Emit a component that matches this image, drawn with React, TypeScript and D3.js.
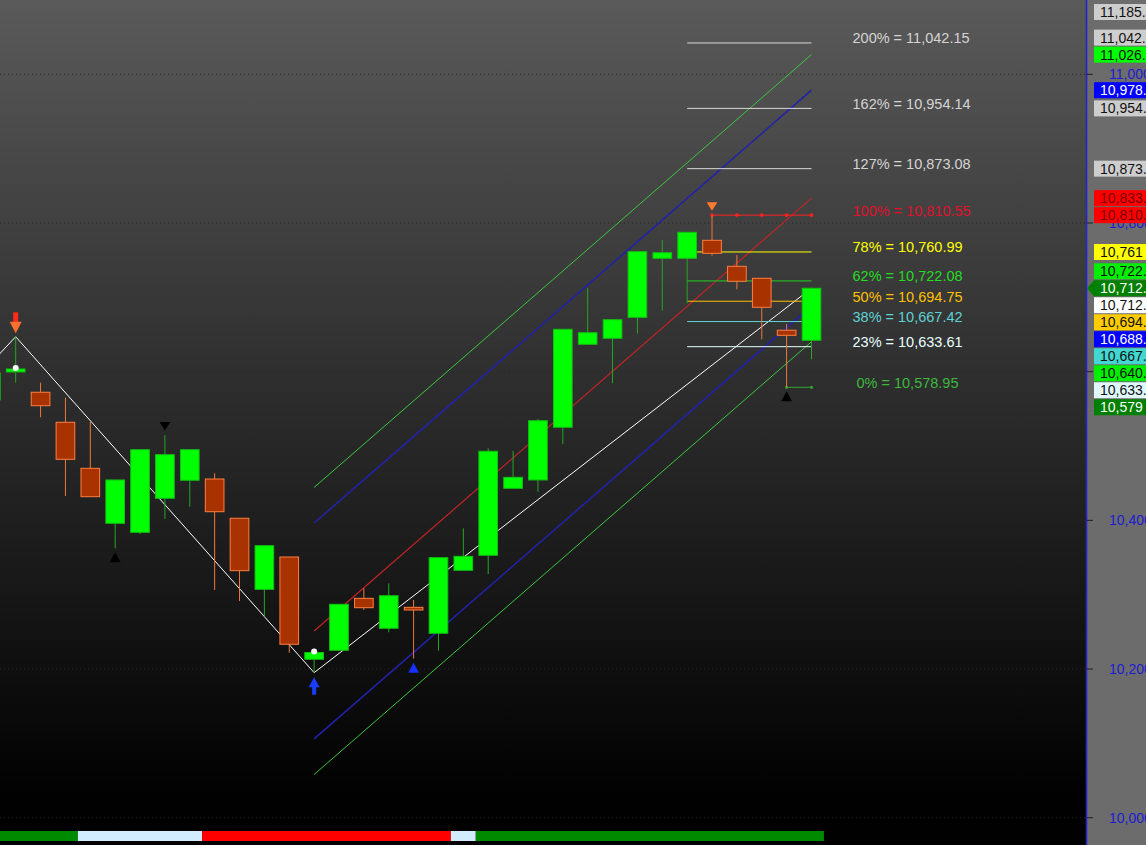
import React from "react";
import * as d3 from "d3";

const WIDTH = 1146;
const HEIGHT = 845;
const FONT = "'Liberation Sans', Arial, sans-serif";

// ---- candles (index -1 .. 32) ----
const candleIdx = [-1, 0, 1, 2, 3, 4, 5, 6, 7, 8, 9, 10, 11, 12, 13, 14, 15, 16, 17, 18, 19, 20, 21, 22, 23, 24, 25, 26, 27, 28, 29, 30, 31, 32];
const opens = [10561.9, 10599.6, 10572.3, 10531.9, 10470.0, 10396.0, 10383.9, 10429.7, 10453.9, 10455.6, 10402.8, 10307.2, 10350.7, 10213.1, 10225.2, 10295.1, 10254.8, 10283.0, 10248.1, 10332.8, 10353.0, 10443.1, 10454.3, 10525.2, 10636.8, 10644.9, 10673.1, 10752.5, 10752.5, 10776.7, 10741.7, 10725.6, 10655.7, 10642.2];
const highs = [10600.0, 10647.0, 10585.2, 10565.0, 10532.3, 10454.3, 10495.0, 10514.8, 10495.0, 10463.3, 10402.8, 10365.9, 10350.7, 10222.2, 10287.1, 10308.6, 10315.3, 10292.9, 10349.8, 10389.3, 10496.9, 10493.3, 10536.3, 10657.0, 10712.2, 10669.9, 10761.4, 10777.1, 10787.5, 10810.55, 10756.9, 10725.6, 10664.1, 10712.2];
const lows = [10555.0, 10585.2, 10538.6, 10432.8, 10431.8, 10362.4, 10381.6, 10401.8, 10418.4, 10306.3, 10291.5, 10270.4, 10222.0, 10195.1, 10225.2, 10279.4, 10249.4, 10213.9, 10224.6, 10332.8, 10327.8, 10443.1, 10438.5, 10502.7, 10636.8, 10584.4, 10651.6, 10682.0, 10692.0, 10756.0, 10710.8, 10643.5, 10578.95, 10616.6];
const closes = [10598.2, 10603.6, 10554.2, 10482.1, 10431.8, 10454.3, 10495.0, 10488.3, 10495.0, 10411.6, 10332.3, 10365.9, 10233.3, 10222.2, 10287.1, 10282.5, 10298.6, 10279.4, 10349.8, 10351.6, 10492.9, 10457.9, 10534.0, 10657.0, 10652.4, 10669.9, 10761.4, 10760.0, 10787.5, 10759.2, 10721.6, 10686.6, 10648.9, 10712.2];

// trend strip state per candle
const trendState = ["up", "up", "up", "up", "flat", "flat", "flat", "flat", "flat", "down", "down", "down", "down", "down", "down", "down", "down", "down", "down", "flat", "up", "up", "up", "up", "up", "up", "up", "up", "up", "up", "up", "up", "up", "up"];
const trendColors: Record<string, string> = { up: "#008a00", flat: "#d2ecff", down: "#ff0000" };

// zigzag
const zigIdx = [-3, 0, 12, 32];
const zigValues = [10540.0, 10647.0, 10195.1, 10712.2];

// regression channel
const regIdx = [12, 32];
const regValues = [10251.2, 10833.4];
const channelOffsets = [193.1, -193.1, 145.2, -145.2, 0];
const channelColors = ["#3cc83c", "#3cc83c", "#2222a8", "#2222a8", "#c42424"];
const channelWidths = [1, 1, 1.6, 1.6, 1.2];

// fibonacci
const fibPct = ["200%", "162%", "127%", "100%", "78%", "62%", "50%", "38%", "23%", "0%"];
const fibValues = [11042.15, 10954.14, 10873.08, 10810.55, 10760.99, 10722.08, 10694.75, 10667.42, 10633.61, 10578.95];
const fibStart = [27, 27, 27, 28, 27, 27, 27, 27, 27, 31];
const fibEnd = 32;
const fibLineColors = ["#d8d8d8", "#d8d8d8", "#d8d8d8", "#ff2020", "#ffff00", "#22d022", "#ffc000", "#60d4d4", "#e8ffff", "#30a030"];
const fibTextColors = ["#d4d4d4", "#d4d4d4", "#d4d4d4", "#e0102c", "#ffff00", "#22dd22", "#ffc000", "#5fd3d3", "#e8ffff", "#3cb83c"];

// signal markers
const markerIdx = [0, 12, 4, 6, 16, 28, 31];
const markerKind = ["arrowDown", "arrowUp", "triUp", "triDown", "triUp", "triDown", "triUp"];
const markerColor = ["#ff7030", "#1a3cff", "#000000", "#000000", "#1530ff", "#ff7a30", "#000000"];
const dotIdx = [0, 12];

// axis
const axisTicks = [10000, 10200, 10400, 10600, 10800, 11000];
const labelValues = [11185.4, 11042.15, 11026.5, 10978.6, 10954.14, 10873.08, 10833.4, 10810.55, 10760.99, 10722.08, 10712.2, 10712.2, 10694.75, 10688.2, 10667.42, 10640.3, 10633.61, 10578.95];
const labelDecimals = [2, 2, 2, 2, 2, 2, 2, 2, 0, 2, 2, 2, 2, 2, 2, 2, 2, 0];
const labelBg = ["#cdcdcd", "#cdcdcd", "#00ff00", "#0000ff", "#cdcdcd", "#cdcdcd", "#ff0000", "#ff0000", "#ffff00", "#00ee00", "#008000", "#ffffff", "#ffcc00", "#0000ff", "#40d8d0", "#00ee00", "#e0f8ff", "#008000"];
const labelFg = ["#111", "#111", "#111", "#fff", "#111", "#111", "#7a0000", "#7a0000", "#111", "#111", "#fff", "#111", "#111", "#fff", "#111", "#111", "#111", "#fff"];
const currentLabel = 10;

export default function App() {
  const x = d3.scaleLinear().domain([0, 32]).range([15.7, 811.5]);
  const y = d3.scaleLinear().domain([10000, 11000]).range([817.7, 74.3]);
  const step = x(1) - x(0);
  const bw = step * 0.75;
  const axisX = 1086;

  const line = d3.line<[number, number]>().x((d) => x(d[0])).y((d) => y(d[1]));

  // axis label placement
  const trueY = labelValues.map((v) => y(v));
  const placed = trueY.slice();
  const gap = 17;
  for (let k = currentLabel - 1; k >= 0; k--) placed[k] = Math.min(trueY[k], placed[k + 1] - gap);
  for (let k = currentLabel + 1; k < placed.length; k++) placed[k] = Math.max(trueY[k], placed[k - 1] + gap);
  const finalY = placed.map((v) => Math.max(v, 12));

  // merge trend strip into runs
  const runs: { s: number; e: number; state: string }[] = [];
  candleIdx.forEach((i, k) => {
    const st = trendState[k];
    const last = runs[runs.length - 1];
    if (last && last.state === st) last.e = i;
    else runs.push({ s: i, e: i, state: st });
  });

  const bull = "#00ff00";
  const bullEdge = "#12c012";
  const bullWick = "#22a822";
  const bear = "#a83200";
  const bearEdge = "#ff7f40";
  const bearWick = "#f07838";

  return (
    <div style={{ position: "fixed", left: 0, top: 0, width: WIDTH, height: HEIGHT, overflow: "hidden" }}>
      <svg width={WIDTH} height={HEIGHT} style={{ display: "block" }} fontFamily={FONT}>
        <defs>
          <linearGradient id="bg" x1="0" y1="0" x2="0" y2="1">
            <stop offset="0" stopColor="#5a5a5a" />
            <stop offset="0.45" stopColor="#2e2e2e" />
            <stop offset="0.93" stopColor="#020202" />
            <stop offset="1" stopColor="#000000" />
          </linearGradient>
          <clipPath id="plot">
            <rect x={0} y={0} width={axisX} height={HEIGHT} />
          </clipPath>
        </defs>
        <rect x={0} y={0} width={axisX} height={HEIGHT} fill="url(#bg)" />

        <g clipPath="url(#plot)">
          {/* grid */}
          {axisTicks.map((t) => (
            <line key={t} x1={0} x2={axisX} y1={y(t)} y2={y(t)} stroke="#262626" strokeDasharray="1,3" />
          ))}

          {/* channel */}
          {channelOffsets.map((off, k) => (
            <path
              key={k}
              d={line(regIdx.map((i, j) => [i, regValues[j] + off]) as [number, number][]) || ""}
              stroke={channelColors[k]}
              strokeWidth={channelWidths[k]}
              fill="none"
            />
          ))}

          {/* zigzag */}
          <path d={line(zigIdx.map((i, j) => [i, zigValues[j]]) as [number, number][]) || ""} stroke="#ffffff" strokeWidth={1} fill="none" />

          {/* fib lines */}
          {fibValues.map((v, k) => (
            <line key={k} x1={x(fibStart[k])} x2={x(fibEnd)} y1={y(v)} y2={y(v)} stroke={fibLineColors[k]} strokeWidth={1} />
          ))}
          {d3.range(28, 33).map((i) => (
            <circle key={"r" + i} cx={x(i)} cy={y(fibValues[3])} r={1.8} fill="#ff2020" />
          ))}
          {[31, 32].map((i) => (
            <circle key={"g" + i} cx={x(i)} cy={y(fibValues[9])} r={1.6} fill="#30a030" />
          ))}

          {/* candles */}
          {candleIdx.map((i, k) => {
            const o = opens[k], c = closes[k], h = highs[k], l = lows[k];
            const up = c >= o;
            const cx = x(i);
            const top = y(Math.max(o, c));
            const bot = y(Math.min(o, c));
            const bh = Math.max(bot - top, 2);
            return (
              <g key={i}>
                <line x1={cx} x2={cx} y1={y(h)} y2={y(l)} stroke={up ? bullWick : bearWick} strokeWidth={1} />
                <rect
                  x={cx - bw / 2}
                  y={top}
                  width={bw}
                  height={bh}
                  fill={up ? bull : bear}
                  stroke={up ? bullEdge : bearEdge}
                  strokeWidth={1}
                />
              </g>
            );
          })}

          {dotIdx.map((i) => {
            const k = candleIdx.indexOf(i);
            return <circle key={"d" + i} cx={x(i)} cy={y(Math.max(opens[k], closes[k])) - 1} r={3} fill="#ffffff" />;
          })}

          {/* markers */}
          {markerIdx.map((i, m) => {
            const k = candleIdx.indexOf(i);
            const cx = x(i);
            const kind = markerKind[m];
            const col = markerColor[m];
            if (kind === "triUp") {
              const t = y(lows[k]) + 4;
              return <path key={"m" + m} d={`M${cx},${t}L${cx + 5.4},${t + 10}L${cx - 5.4},${t + 10}Z`} fill={col} />;
            }
            if (kind === "triDown") {
              const t = y(highs[k]) - 4.5;
              return <path key={"m" + m} d={`M${cx},${t}L${cx + 5.4},${t - 8.5}L${cx - 5.4},${t - 8.5}Z`} fill={col} />;
            }
            if (kind === "arrowDown") {
              const t = y(highs[k]) - 3.4;
              return (
                <g key={"m" + m}>
                  <rect x={cx - 2.5} y={t - 21} width={5} height={10} fill="#ff2a1a" />
                  <path d={`M${cx},${t}L${cx + 6},${t - 11.5}L${cx - 6},${t - 11.5}Z`} fill={col} />
                </g>
              );
            }
            const t = y(lows[k]) + 4.6;
            return (
              <g key={"m" + m}>
                <path d={`M${cx},${t}L${cx + 5.5},${t + 10}L${cx - 5.5},${t + 10}Z`} fill={col} />
                <rect x={cx - 2} y={t + 9.5} width={4} height={8} fill={col} />
              </g>
            );
          })}

          {/* fib labels */}
          {fibValues.map((v, k) => (
            <text
              key={"ft" + k}
              x={852.5 + (fibPct[k] === "0%" ? 4 : 0)}
              y={y(v) + 0.5}
              fill={fibTextColors[k]}
              fontSize={14.5}
            >
              {`${fibPct[k]} = ${d3.format(",.2f")(v)}`}
            </text>
          ))}

          {/* trend strip */}
          {runs.map((r) => {
            const x0 = Math.max(0, x(r.s) - step / 2);
            const x1 = x(r.e) + step / 2;
            return <rect key={"s" + r.s} x={x0} y={831} width={x1 - x0} height={10} fill={trendColors[r.state]} />;
          })}
        </g>

        {/* right axis panel */}
        <rect x={axisX} y={0} width={WIDTH - axisX} height={HEIGHT} fill="#6c6c6c" />
        <line x1={axisX + 0.5} x2={axisX + 0.5} y1={0} y2={HEIGHT} stroke="#2424c8" strokeWidth={1.6} />
        {axisTicks.map((t) => (
          <g key={"t" + t}>
            <line x1={axisX + 1} x2={axisX + 7} y1={y(t)} y2={y(t)} stroke="#1e1e1e" />
            <text x={1109} y={y(t) + 5} fill="#1c1cd0" fontSize={14}>
              {d3.format(",")(t)}
            </text>
          </g>
        ))}
        {labelValues.map((v, k) => {
          const cy = finalY[k];
          return (
            <g key={"l" + k}>
              {k === currentLabel && (
                <path d={`M${axisX + 1},${cy}L${1094},${cy - 8}L${1094},${cy + 8}Z`} fill={labelBg[k]} />
              )}
              <rect x={1094} y={cy - 8} width={60} height={16} fill={labelBg[k]} />
              <text x={1100} y={cy + 5} fill={labelFg[k]} fontSize={14}>
                {d3.format(labelDecimals[k] === 0 ? ",.0f" : ",.2f")(v)}
              </text>
            </g>
          );
        })}
      </svg>
    </div>
  );
}
